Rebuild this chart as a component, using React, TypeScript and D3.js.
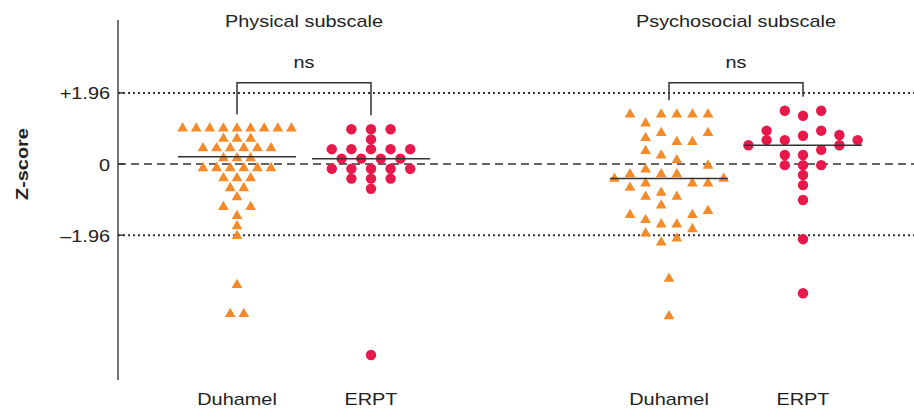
import * as d3 from "d3";

type Row = [number, number[]];

// Z-score levels and the lane offsets of the points drawn at each level
const physicalDuhamel: Row[] = [
  [0.98, [-4, -3, -2, -1, 0, 1, 2, 3, 4]],
  [0.7, [-1, 0, 1]],
  [0.44, [-2.5, -1.5, -0.5, 0.5, 1.5, 2.5]],
  [0.165, [-1, 0, 1]],
  [-0.11, [-2.5, -1.5, -0.5, 0.5, 1.5, 2.5]],
  [-0.39, [-1, 0, 1]],
  [-0.66, [-0.5, 0.5]],
  [-0.91, [0]],
  [-1.18, [-1, 1]],
  [-1.43, [0]],
  [-1.71, [0]],
  [-1.98, [0]],
  [-3.33, [0]],
  [-4.13, [-0.5, 0.5]],
];

const physicalERPT: Row[] = [
  [0.96, [-2, 0, 2]],
  [0.68, [0]],
  [0.41, [-4, -2, 0, 2, 4]],
  [0.15, [-3, -1, 1, 3]],
  [-0.13, [-4, -2, 0, 2, 4]],
  [-0.4, [-2, 0, 2]],
  [-0.68, [0]],
  [-5.26, [0]],
];

const psychosocialDuhamel: Row[] = [
  [1.37, [-2.5, -0.5, 0.5, 1.5, 2.5]],
  [1.12, [-1.5]],
  [0.86, [-0.5, 2.5]],
  [0.72, [-1.5]],
  [0.61, [0.5, 1.5]],
  [0.36, [-1.5]],
  [0.24, [-0.5]],
  [0.11, [0.5]],
  [-0.04, [2.5]],
  [-0.15, [-1.5]],
  [-0.28, [-2.5, -0.5, 0.5]],
  [-0.4, [-3.5, 3.5]],
  [-0.53, [-1.5, 1.5, 2.5]],
  [-0.65, [-2.5]],
  [-0.79, [-0.5]],
  [-0.9, [-1.5, 0.5]],
  [-1.14, [-0.5]],
  [-1.29, [2.5]],
  [-1.4, [-2.5, 1.5]],
  [-1.54, [-1.5]],
  [-1.66, [-0.5, 0.5]],
  [-1.79, [1.5]],
  [-1.91, [-1.5]],
  [-2.05, [0.5]],
  [-2.16, [-0.5]],
  [-3.16, [0]],
  [-4.19, [0]],
];

const psychosocialERPT: Row[] = [
  [1.47, [-1, 1]],
  [1.33, [0]],
  [0.92, [-2, 1]],
  [0.8, [2]],
  [0.78, [0]],
  [0.66, [-2, -1, 3]],
  [0.52, [-3, 2]],
  [0.39, [1]],
  [0.25, [-1, 0]],
  [-0.03, [-1, 0, 1]],
  [-0.3, [0]],
  [-0.58, [0]],
  [-0.99, [0]],
  [-2.07, [0]],
  [-3.56, [0]],
];

const panels = ["Physical subscale", "Psychosocial subscale"];
const groups = ["Duhamel", "ERPT"];
const means = [
  [0.2, 0.15],
  [-0.4, 0.52],
];
const tickValues = [1.96, 0, -1.96];
const tickLabels = ["+1.96", "0", "\u20131.96"];
const rows: Row[][][] = [
  [physicalDuhamel, physicalERPT],
  [psychosocialDuhamel, psychosocialERPT],
];

const W = 914;
const H = 408;
const axisX = 118;
const laneWidth = [
  [13.6, 9.8],
  [15.6, 18.2],
];
const orange = "#f58a28";
const red = "#e8184b";
const font = "'Liberation Sans', Arial, Helvetica, sans-serif";
const stretch = 1.17;

export default function App() {
  const y = d3.scaleLinear().domain([-5.95, 3.97]).range([380, 20]);
  const panelX = d3.scalePoint<string>().domain(panels).range([304, 736]);
  const groupX = d3.scalePoint<string>().domain(groups).range([-67, 67]);
  const triangle = d3.symbol().type(d3.symbolTriangle).size(50)() ?? "";

  const label = (
    x: number,
    yy: number,
    text: string,
    opts: { anchor?: string; weight?: string; rotate?: number } = {}
  ) => (
    <text
      key={`${text}-${x}-${yy}`}
      transform={`translate(${x},${yy}) rotate(${opts.rotate ?? 0}) scale(${stretch},1)`}
      textAnchor={opts.anchor ?? "middle"}
      fontWeight={opts.weight ?? "normal"}
      fontFamily={font}
      fontSize={17}
      fill="#222"
    >
      {text}
    </text>
  );

  return (
    <svg
      width={W}
      height={H}
      style={{ position: "absolute", left: 0, top: 0, background: "#fff" }}
    >
      {/* reference lines */}
      {tickValues.map((t, i) => (
        <line
          key={`ref-${i}`}
          x1={axisX}
          x2={W}
          y1={y(t)}
          y2={y(t)}
          stroke="#333"
          strokeWidth={t === 0 ? 1.4 : 2}
          strokeDasharray={t === 0 ? "8,5" : "2,3"}
        />
      ))}

      {/* y axis */}
      <line x1={axisX} x2={axisX} y1={y.range()[1]} y2={y.range()[0]} stroke="#444" strokeWidth={1.5} />
      {tickValues.map((t, i) => (
        <g key={`tick-${i}`}>
          <line x1={axisX} x2={axisX + 6} y1={y(t)} y2={y(t)} stroke="#333" strokeWidth={1.5} />
          {label(110, y(t) + 6.5, tickLabels[i], { anchor: "end" })}
        </g>
      ))}
      {label(28, y(0), "Z-score", { weight: "bold", rotate: -90 })}

      {panels.map((p, pi) => {
        const cx = (g: string) => (panelX(p) ?? 0) + (groupX(g) ?? 0);
        const tops = groups.map((g, gi) => y(d3.max(rows[pi][gi], (r) => r[0]) ?? 0) - 14);
        const by = y(2.24);
        return (
          <g key={p}>
            {label(panelX(p) ?? 0, 27, p)}
            <path
              d={`M${cx(groups[0])},${tops[0]}V${by}H${cx(groups[1])}V${tops[1]}`}
              fill="none"
              stroke="#333"
              strokeWidth={1.5}
            />
            {label(panelX(p) ?? 0, 68, "ns")}
            {groups.map((g, gi) => {
              const lane = d3
                .scaleLinear()
                .domain([-1, 1])
                .range([cx(g) - laneWidth[pi][gi], cx(g) + laneWidth[pi][gi]]);
              return (
                <g key={g}>
                  {label(cx(g), 405, g)}
                  {rows[pi][gi].flatMap(([z, lanes]) =>
                    lanes.map((l, li) =>
                      gi === 0 ? (
                        <path
                          key={`${z}-${li}`}
                          d={triangle}
                          transform={`translate(${lane(l)},${y(z)})`}
                          fill={orange}
                        />
                      ) : (
                        <circle key={`${z}-${li}`} cx={lane(l)} cy={y(z)} r={5.2} fill={red} />
                      )
                    )
                  )}
                  <line
                    x1={cx(g) - 59}
                    x2={cx(g) + 59}
                    y1={y(means[pi][gi])}
                    y2={y(means[pi][gi])}
                    stroke="#333"
                    strokeWidth={1.5}
                  />
                </g>
              );
            })}
          </g>
        );
      })}
    </svg>
  );
}
